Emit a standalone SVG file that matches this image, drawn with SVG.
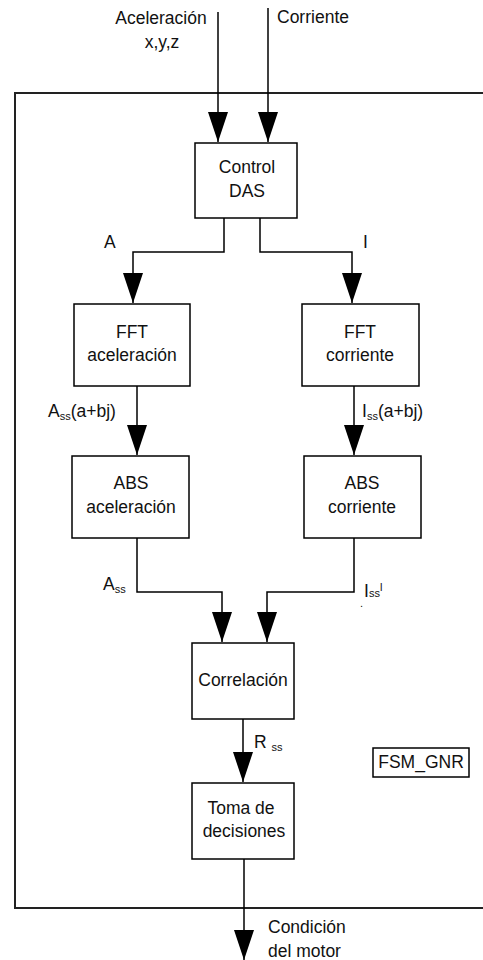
<svg xmlns="http://www.w3.org/2000/svg" width="483" height="960" viewBox="0 0 483 960">
  <style>
    .box { fill: #ffffff; stroke: #000000; stroke-width: 1.5; }
    .wire { fill: none; stroke: #000000; stroke-width: 1.5; marker-end: url(#head); }
    text { font-family: "Liberation Sans", Arial, sans-serif; font-size: 17.5px; fill: #111111; }
    .c { text-anchor: middle; }
    .sub { font-size: 11px; }
  </style>
  <defs>
    <marker id="head" markerUnits="userSpaceOnUse" viewBox="0 0 30 20" refX="30" refY="10" markerWidth="30" markerHeight="20" orient="auto">
      <path d="M0,0 L30,10 L0,20 z" fill="#000000"/>
    </marker>
  </defs>

  <rect width="483" height="960" fill="#ffffff"/>

  <!-- system boundary -->
  <rect id="frame" x="15" y="93" width="480" height="815" fill="none" stroke="#222222" stroke-width="2"/>

  <!-- connectors -->
  <g id="connectors">
    <path class="wire" d="M218,12 V142"/>
    <path class="wire" d="M268,8 V142"/>
    <path class="wire" d="M224,218 V252 H133 V303"/>
    <path class="wire" d="M260,218 V252 H352 V303"/>
    <path class="wire" d="M137,386 V455"/>
    <path class="wire" d="M354,386 V455"/>
    <path class="wire" d="M137,538 V592 H222 V642"/>
    <path class="wire" d="M354,538 V592 H267 V642"/>
    <path class="wire" d="M243,719 V782"/>
    <path class="wire" d="M244,859 V960"/>
  </g>

  <!-- signal labels -->
  <g id="labels">
    <text class="c" x="161" y="24">Aceleración</text>
    <text class="c" x="162" y="48">x,y,z</text>
    <text x="277" y="23">Corriente</text>
    <text x="104" y="248">A</text>
    <text x="363" y="248">I</text>
    <text x="48" y="417">A<tspan class="sub" dy="3">ss</tspan><tspan dy="-3">(a+bj)</tspan></text>
    <text x="362" y="417">I<tspan class="sub" dy="3">ss</tspan><tspan dy="-3">(a+bj)</tspan></text>
    <text x="103" y="590">A<tspan class="sub" dy="3">ss</tspan></text>
    <text x="364" y="597">I<tspan class="sub" dy="0">ss</tspan><tspan class="sub" dy="-6">l</tspan></text>
    <text x="360" y="607" class="sub">.</text>
    <text x="254" y="748">R <tspan class="sub" dy="3">ss</tspan></text>
    <text x="268" y="933">Condición</text>
    <text x="268" y="957">del motor</text>
  </g>

  <g id="control-das">
    <rect class="box" x="195" y="143" width="102" height="75"/>
    <text class="c" x="247" y="173">Control</text>
    <text class="c" x="247" y="197">DAS</text>
  </g>

  <g id="fft-aceleracion">
    <rect class="box" x="74" y="304" width="116" height="82"/>
    <text class="c" x="132" y="338">FFT</text>
    <text class="c" x="132" y="361">aceleración</text>
  </g>

  <g id="fft-corriente">
    <rect class="box" x="302" y="304" width="117" height="82"/>
    <text class="c" x="360" y="338">FFT</text>
    <text class="c" x="360" y="361">corriente</text>
  </g>

  <g id="abs-aceleracion">
    <rect class="box" x="72" y="456" width="117" height="82"/>
    <text class="c" x="131" y="489">ABS</text>
    <text class="c" x="131" y="513">aceleración</text>
  </g>

  <g id="abs-corriente">
    <rect class="box" x="304" y="456" width="117" height="82"/>
    <text class="c" x="362" y="489">ABS</text>
    <text class="c" x="362" y="513">corriente</text>
  </g>

  <g id="correlacion">
    <rect class="box" x="192" y="643" width="102" height="76"/>
    <text class="c" x="243" y="686">Correlación</text>
  </g>

  <g id="toma-de-decisiones">
    <rect class="box" x="192" y="783" width="102" height="76"/>
    <text class="c" x="241" y="814">Toma de</text>
    <text class="c" x="244" y="837">decisiones</text>
  </g>

  <g id="fsm-gnr">
    <rect class="box" x="373" y="748" width="96" height="29"/>
    <text class="c" x="421" y="768">FSM_GNR</text>
  </g>
</svg>
